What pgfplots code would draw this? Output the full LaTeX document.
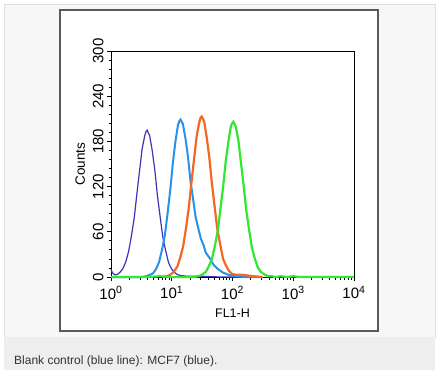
\documentclass[border=0pt]{standalone}
\usepackage{pgfplots}
\pgfplotsset{compat=1.18}
\usepackage{fontspec}
\setmainfont{Liberation Sans}
\definecolor{cdark}{RGB}{62,52,182}
\definecolor{clight}{RGB}{40,145,232}
\definecolor{corange}{RGB}{243,104,34}
\definecolor{cgreen}{RGB}{48,232,48}
\definecolor{panel}{RGB}{247,247,247}
\definecolor{panelborder}{RGB}{222,222,222}
\definecolor{capbg}{RGB}{238,238,238}
\definecolor{boxline}{RGB}{90,90,90}
\begin{document}
\begin{tikzpicture}[x=1bp,y=1bp]
\useasboundingbox (0,0) rectangle (437,370);
\fill[white] (0,0) rectangle (437,370);
\filldraw[fill=panel,draw=panelborder,line width=0.8bp] (4,33) rectangle (435,366);
\fill[capbg] (4,0) rectangle (435,33);
\filldraw[fill=white,draw=boxline,line width=1.2bp] (60,39) rectangle (378,360);
\node[anchor=base west,inner sep=0pt,font=\fontsize{12bp}{14bp}\selectfont,text=black!80] at (14,6) {Blank control (blue line): MCF7 (blue).};
\begin{axis}[
  at={(111bp,93bp)}, anchor=south west,
  scale only axis, width=243bp, height=226bp,
  xmin=0, xmax=4, ymin=0, ymax=300,
  clip=false,
  axis line style={line width=0.9bp,black},
  tick style={line width=0.8bp,black},
  tick align=outside,
  major tick length=4bp, minor tick length=2.5bp,
  xtick pos=bottom, ytick pos=left,
  xtick={0,1,2,3,4},
  xticklabels={10\textsuperscript{0},10\textsuperscript{1},10\textsuperscript{2},10\textsuperscript{3},10\textsuperscript{4}},
  minor xtick={0.301,0.477,0.602,0.699,0.778,0.845,0.903,0.954,
    1.301,1.477,1.602,1.699,1.778,1.845,1.903,1.954,
    2.301,2.477,2.602,2.699,2.778,2.845,2.903,2.954,
    3.301,3.477,3.602,3.699,3.778,3.845,3.903,3.954},
  ytick={0,60,120,180,240,300},
  minor y tick num=4,
  /pgf/number format/assume math mode=true,
  ticklabel style={font=\fontsize{15bp}{17bp}\selectfont},
  yticklabel style={rotate=90,anchor=south,xshift=0bp},
  xticklabel style={yshift=-2bp},
  xlabel={FL1-H}, ylabel={Counts},
  xlabel style={font=\fontsize{12.5bp}{14bp}\selectfont, yshift=-3bp},
  ylabel style={font=\fontsize{13.5bp}{15bp}\selectfont, yshift=1bp},
]
\addplot[cdark, line width=1.2bp] coordinates {
(0,10) (0.015,7) (0.03,5) (0.06,3) (0.095,3) (0.145,6) (0.195,11) (0.243,20) (0.29,34) (0.337,55) (0.383,79) (0.427,111) (0.47,141) (0.512,170) (0.554,187) (0.575,193) (0.595,195) (0.615,191) (0.636,188) (0.678,168) (0.72,143) (0.763,109) (0.807,81) (0.853,53) (0.9,35) (0.947,19) (0.995,11) (1.045,6) (1.095,3) (1.145,2) (1.25,1) (1.5,1) (1.8,0) (2.5,0)
};
\addplot[clight, line width=2bp] coordinates {
(0,0) (0.5,0) (0.574,1) (0.644,3) (0.694,5) (0.744,11) (0.792,20) (0.839,36) (0.886,55) (0.932,85) (0.976,116) (1.019,152) (1.061,180) (1.103,202) (1.124,207) (1.144,209) (1.164,206) (1.184,203) (1.226,184) (1.268,159) (1.31,126) (1.352,103) (1.394,79) (1.436,65) (1.478,51) (1.52,43) (1.562,32) (1.625,25) (1.69,16) (1.755,11) (1.84,6) (1.93,3) (2.05,1) (2.2,0) (2.5,0)
};
\addplot[corange, line width=2.2bp] coordinates {
(0.85,0) (0.923,1) (0.993,4) (1.043,8) (1.093,14) (1.141,26) (1.188,41) (1.235,65) (1.281,92) (1.325,126) (1.368,157) (1.41,187) (1.452,205) (1.473,211) (1.493,213) (1.513,210) (1.534,206) (1.576,185) (1.618,159) (1.661,124) (1.705,94) (1.751,63) (1.798,43) (1.845,24) (1.893,15) (1.943,8) (1.993,4) (2.06,3) (2.15,3) (2.25,2) (2.35,1) (2.5,0)
};
\addplot[cgreen, line width=2.2bp] coordinates {
(0,0) (0.6,0) (0.8,1) (1.0,0) (1.35,0) (1.444,1) (1.514,4) (1.564,7) (1.614,15) (1.662,24) (1.709,41) (1.756,61) (1.802,91) (1.846,120) (1.889,154) (1.931,179) (1.973,200) (1.994,204) (2.014,206) (2.034,203) (2.055,199) (2.097,181) (2.139,152) (2.182,122) (2.226,89) (2.272,63) (2.319,39) (2.366,25) (2.414,13) (2.464,7) (2.514,4) (2.584,1) (2.65,1) (2.7,0) (2.8,1) (2.9,0) (3.0,1) (3.1,0) (4,0)
};
\end{axis}
\end{tikzpicture}
\end{document}
